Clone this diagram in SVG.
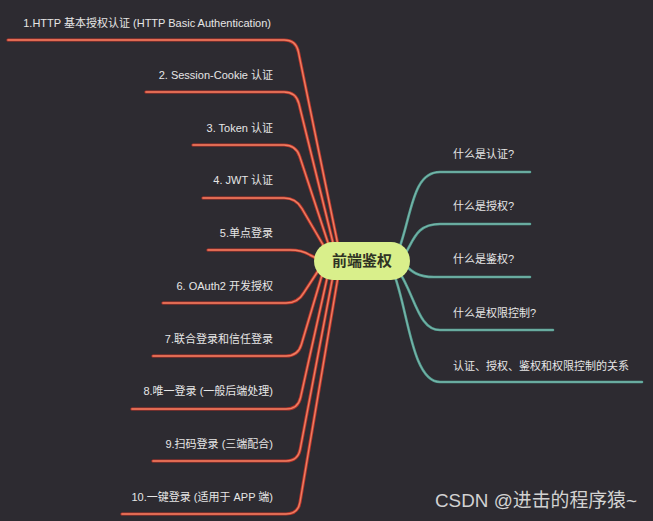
<svg xmlns="http://www.w3.org/2000/svg" xmlns:xlink="http://www.w3.org/1999/xlink" width="653" height="521" viewBox="0 0 653 521">
<style>
.lbl{font-family:"Liberation Sans","Noto Sans CJK SC",sans-serif;font-size:11px;fill:#e6e6e6}
.l{text-anchor:end}
.redo{fill:none;stroke:#b8352a;stroke-width:3.2;stroke-linecap:round;stroke-linejoin:round}
.redi{fill:none;stroke:#ee7e62;stroke-width:1.4;stroke-linecap:round;stroke-linejoin:round}
.teal{fill:none;stroke:#56a194;stroke-width:2.6;stroke-linecap:round;stroke-linejoin:round}
.teali{fill:none;stroke:#86bdb2;stroke-width:0.8;stroke-linecap:round}
.center{fill:#d9ef8b}
.ctext{font-family:"Noto Sans CJK SC","Liberation Sans",sans-serif;font-size:15px;font-weight:bold;fill:#2f3324;text-anchor:middle}
.wm{font-family:"Liberation Sans","Noto Sans CJK SC",sans-serif;font-size:19px;fill:#d2d2d2}
</style>
<defs>
<path id="p1" d="M 8 40 H 284 Q 296 40 298.4 51.8 L 340 255"/>
<path id="p2" d="M 146 92 H 284 Q 296 92 298.9 103.7 L 336 255"/>
<path id="p3" d="M 193 145 H 284 Q 296 145 299.7 156.4 L 332 255"/>
<path id="p4" d="M 203 198 H 284 Q 296 198 301.9 208.5 L 329 255"/>
<path id="p5" d="M 208 250 H 290 Q 302 250 310 255 L 320 260"/>
<path id="p6" d="M 163 303 H 286 Q 298 303 303.9 292.6 L 320 268"/>
<path id="p7" d="M 153 356 H 286 Q 298 356 301.4 344.5 L 325 265"/>
<path id="p8" d="M 132 409 H 286 Q 298 409 300.6 397.3 L 330 265"/>
<path id="p9" d="M 153 461 H 286 Q 298 461 300.2 449.2 L 335 265"/>
<path id="p10" d="M 122 514 H 286 Q 298 514 300 502.2 L 340 265"/>
<path id="r1" d="M 398 252 C 412 215, 412 172, 440 172 H 530"/>
<path id="r2" d="M 404 256 C 414 240, 416 224, 440 224 H 530"/>
<path id="r3" d="M 404 264 C 412 272, 418 277, 434 277 H 530"/>
<path id="r4" d="M 398 270 C 415 295, 418 330, 440 330 H 553"/>
<path id="r5" d="M 394 274 C 408 310, 412 382, 440 382 H 642"/>
</defs>
<rect x="0" y="0" width="653" height="521" fill="#2d2b31"/>
<g id="connectors">
<use xlink:href="#p1" class="redo"/><use xlink:href="#p1" class="redi"/>
<use xlink:href="#p2" class="redo"/><use xlink:href="#p2" class="redi"/>
<use xlink:href="#p3" class="redo"/><use xlink:href="#p3" class="redi"/>
<use xlink:href="#p4" class="redo"/><use xlink:href="#p4" class="redi"/>
<use xlink:href="#p5" class="redo"/><use xlink:href="#p5" class="redi"/>
<use xlink:href="#p6" class="redo"/><use xlink:href="#p6" class="redi"/>
<use xlink:href="#p7" class="redo"/><use xlink:href="#p7" class="redi"/>
<use xlink:href="#p8" class="redo"/><use xlink:href="#p8" class="redi"/>
<use xlink:href="#p9" class="redo"/><use xlink:href="#p9" class="redi"/>
<use xlink:href="#p10" class="redo"/><use xlink:href="#p10" class="redi"/>
<use xlink:href="#r1" class="teal"/><use xlink:href="#r1" class="teali"/>
<use xlink:href="#r2" class="teal"/><use xlink:href="#r2" class="teali"/>
<use xlink:href="#r3" class="teal"/><use xlink:href="#r3" class="teali"/>
<use xlink:href="#r4" class="teal"/><use xlink:href="#r4" class="teali"/>
<use xlink:href="#r5" class="teal"/><use xlink:href="#r5" class="teali"/>
</g>
<g id="node-center">
<rect class="center" x="314" y="242" width="96" height="38" rx="19" ry="19"/>
<text class="ctext" x="362" y="266">前端鉴权</text>
</g>
<g id="node-l1"><text class="lbl l" x="271" y="27">1.HTTP 基本授权认证 (HTTP Basic Authentication)</text></g>
<g id="node-l2"><text class="lbl l" x="273" y="79">2. Session-Cookie 认证</text></g>
<g id="node-l3"><text class="lbl l" x="273" y="132">3. Token 认证</text></g>
<g id="node-l4"><text class="lbl l" x="273" y="184">4. JWT 认证</text></g>
<g id="node-l5"><text class="lbl l" x="273" y="237">5.单点登录</text></g>
<g id="node-l6"><text class="lbl l" x="273" y="290">6. OAuth2 开发授权</text></g>
<g id="node-l7"><text class="lbl l" x="273" y="343">7.联合登录和信任登录</text></g>
<g id="node-l8"><text class="lbl l" x="273" y="395">8.唯一登录 (一般后端处理)</text></g>
<g id="node-l9"><text class="lbl l" x="273" y="448">9.扫码登录 (三端配合)</text></g>
<g id="node-l10"><text class="lbl l" x="273" y="501">10.一键登录 (适用于 APP 端)</text></g>
<g id="node-r1"><text class="lbl" x="453" y="158">什么是认证?</text></g>
<g id="node-r2"><text class="lbl" x="453" y="210">什么是授权?</text></g>
<g id="node-r3"><text class="lbl" x="453" y="263">什么是鉴权?</text></g>
<g id="node-r4"><text class="lbl" x="453" y="317">什么是权限控制?</text></g>
<g id="node-r5"><text class="lbl" x="453" y="370">认证、授权、鉴权和权限控制的关系</text></g>
<text class="wm" x="435" y="507" textLength="202" lengthAdjust="spacingAndGlyphs">CSDN @进击的程序猿~</text>
</svg>
